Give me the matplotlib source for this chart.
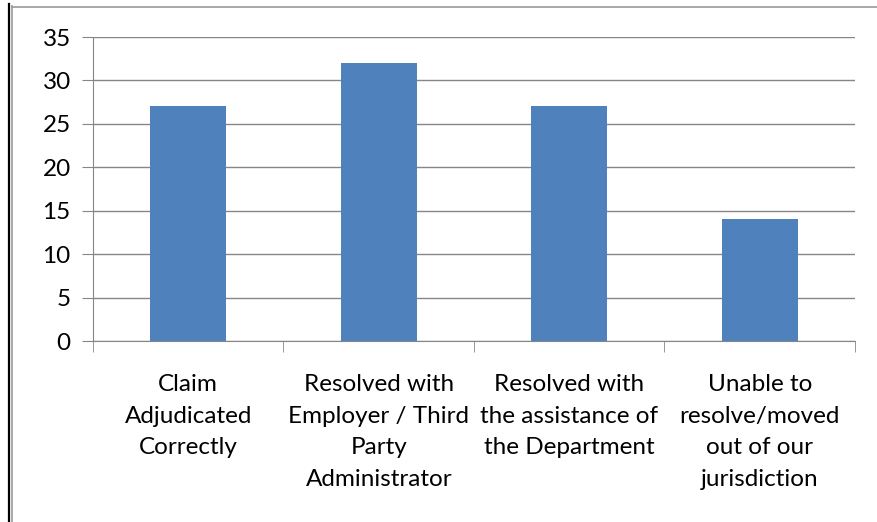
import matplotlib
matplotlib.use("Agg")
import matplotlib.pyplot as plt
from matplotlib.lines import Line2D

categories = ["Claim\nAdjudicated\nCorrectly",
              "Resolved with\nEmployer / Third\nParty\nAdministrator",
              "Resolved with\nthe assistance of\nthe Department",
              "Unable to\nresolve/moved\nout of our\njurisdiction"]
values = [27, 32, 27, 14]
yticks = [0, 5, 10, 15, 20, 25, 30, 35]

plt.rcParams['font.family'] = ['Lato', 'DejaVu Sans']
fig = plt.figure(figsize=(8.78, 5.22), dpi=100)
ax = fig.add_axes([93/878, 1-341/522, (855-93)/878, (341-37)/522])

x = list(range(len(categories)))
ax.bar(x, values, width=0.4, color='#4F81BD', zorder=3)
ax.set_xlim(-0.5, len(categories)-0.5)
ax.set_ylim(0, 35)
ax.set_yticks(yticks)
ax.set_yticklabels([str(v) for v in yticks], fontsize=17.5)
ax.set_xticks(x)
ax.set_xticklabels(categories, fontsize=17.5, linespacing=1.62)
ax.set_xticks([i + 0.5 for i in range(-1, len(categories))], minor=True)
ax.tick_params(axis='x', which='major', length=0, pad=24)
ax.tick_params(axis='x', which='minor', length=8, color='#868686', direction='out')
ax.tick_params(axis='y', length=8, color='#868686', pad=8, direction='out')
ax.yaxis.grid(True, color='#868686', linewidth=1, zorder=0)
for s in ['top', 'right']:
    ax.spines[s].set_visible(False)
for s in ['left', 'bottom']:
    ax.spines[s].set_color('#868686')

W, H = 878, 522
fig.add_artist(Line2D([8.5/W, 8.5/W], [0, 1-4/H], color='black', linewidth=1.6, transform=fig.transFigure))
fig.add_artist(Line2D([12/W, 12/W], [0, 1-6/H], color='#999999', linewidth=1.2, transform=fig.transFigure))
fig.add_artist(Line2D([12/W, 1], [1-6.5/H, 1-6.5/H], color='#999999', linewidth=1.2, transform=fig.transFigure))

fig.savefig("out.png", dpi=100)
